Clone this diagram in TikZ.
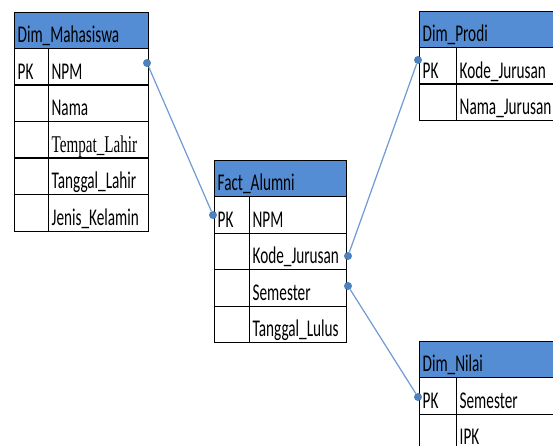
\documentclass[tikz,border=0pt]{standalone}
\usepackage{fontspec}
\setmainfont[FakeStretch=0.635]{Carlito}
\newfontfamily\serifalt[FakeStretch=0.63]{Liberation Serif}
\usepackage{tikz}
\usetikzlibrary{positioning}
\definecolor{hdrblue}{RGB}{84,141,212}
\definecolor{linkblue}{RGB}{112,154,211}
\definecolor{dotblue}{RGB}{79,129,189}
\tikzset{
    Cell/.style = {draw=black, line width=1.3pt, anchor=north west, inner xsep=3pt, inner ysep=0pt,
                   text height=30.5pt, text depth=6pt, align=left}
}
\tikzset{
    Head/.style = {Cell, fill=hdrblue, text height=29.5pt, text depth=6.5pt}
}
\tikzset{
    Link/.style = {draw=linkblue, line width=1.2pt}
}

\begin{document}
\begin{tikzpicture}[
    x=1pt, y=-1pt,
    font=\fontsize{24}{28}\selectfont
]
\tikzset{
    Dot/.style = {circle, fill=dotblue, inner sep=0pt, minimum size=8pt},
}
\useasboundingbox (0,0) rectangle (553,446);

% Dim_Mahasiswa
\node[Head, text width=128pt] at (14,12) (mh) {Dim\_Mahasiswa};
\node[Cell, text width=28pt] at (14,48) (mk1) {PK};
\node[Cell, text width=94pt] at (48,48) (mf1) {NPM};
\node[Cell, text width=28pt] at (14,84.5) (mk2) {};
\node[Cell, text width=94pt] at (48,84.5) (mf2) {Nama};
\node[Cell, text width=28pt] at (14,121) (mk3) {};
\node[Cell, text width=94pt] at (48,121) (mf3) {\serifalt Tempat\_Lahir};
\node[Cell, text width=28pt] at (14,157.5) (mk4) {};
\node[Cell, text width=94pt] at (48,157.5) (mf4) {Tanggal\_Lahir};
\node[Cell, text width=28pt] at (14,194) (mk5) {};
\node[Cell, text width=94pt] at (48,194) (mf5) {Jenis\_Kelamin};

% Fact_Alumni
\node[Head, text width=126pt] at (214,160) (fh) {Fact\_Alumni};
\node[Cell, text width=29pt] at (214,196) (fk1) {PK};
\node[Cell, text width=91pt] at (249,196) (ff1) {NPM};
\node[Cell, text width=29pt] at (214,232.5) (fk2) {};
\node[Cell, text width=91pt] at (249,232.5) (ff2) {Kode\_Jurusan};
\node[Cell, text width=29pt] at (214,269) (fk3) {};
\node[Cell, text width=91pt] at (249,269) (ff3) {Semester};
\node[Cell, text width=29pt] at (214,305.5) (fk4) {};
\node[Cell, text width=91pt] at (249,305.5) (ff4) {Tanggal\_Lulus};

% Dim_Prodi
\node[Head, text width=141pt] at (419,11) (ph) {Dim\_Prodi};
\node[Cell, text width=31pt] at (419,47) (pk1) {PK};
\node[Cell, text width=104pt] at (456,47) (pf1) {Kode\_Jurusan};
\node[Cell, text width=31pt] at (419,83.5) (pk2) {};
\node[Cell, text width=104pt] at (456,83.5) (pf2) {Nama\_Jurusan};

% Dim_Nilai
\node[Head, text width=141pt] at (419,341) (nh) {Dim\_Nilai};
\node[Cell, text width=31pt] at (419,377) (nk1) {PK};
\node[Cell, text width=104pt] at (456,377) (nf1) {Semester};
\node[Cell, text width=31pt] at (419,413.5) (nk2) {};
\node[Cell, text width=104pt] at (456,413.5) (nf2) {IPK};

% relation ends
\node[Dot] at (147,63) (dm) {};
\node[Dot] at (213,215) (df1) {};
\node[Dot] at (348,256) (df2) {};
\node[Dot] at (348,286) (df3) {};
\node[Dot] at (418,60) (dp) {};
\node[Dot] at (418,397) (dn) {};

\path (dm) edge [Link] (df1);
\path (df2) edge [Link] (dp);
\path (df3) edge [Link] (dn);
\end{tikzpicture}
\end{document}
